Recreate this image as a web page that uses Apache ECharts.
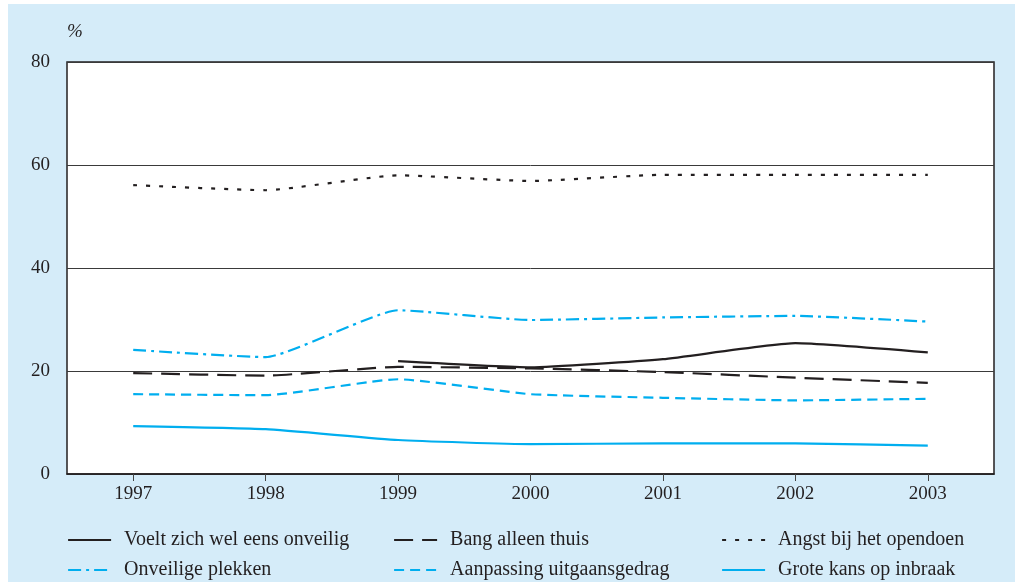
<!DOCTYPE html>
<html>
<head>
<meta charset="utf-8">
<script src="https://cdn.jsdelivr.net/npm/echarts@6/dist/echarts.min.js"></script>
<style>
html,body{margin:0;padding:0;background:#ffffff;}
#chart{position:absolute;left:8px;top:4px;width:1007px;height:578px;}
</style>
</head>
<body>
<div id="chart"></div>
<script>
const years = ['1997','1998','1999','2000','2001','2002','2003'];
const yTicks = [0, 20, 40, 60, 80];
const names = ['Voelt zich wel eens onveilig','Bang alleen thuis','Angst bij het opendoen','Onveilige plekken','Aanpassing uitgaansgedrag','Grote kans op inbraak'];
const voeltOnveilig = [null, null, 21.9, 20.7, 22.3, 25.4, 23.6];
const bangAlleen = [19.6, 19.1, 20.8, 20.5, 19.8, 18.7, 17.7];
const angstOpendoen = [56.1, 55.1, 58.0, 56.9, 58.1, 58.1, 58.1];
const onveiligePlekken = [24.1, 22.7, 31.8, 29.9, 30.4, 30.7, 29.6];
const aanpassing = [15.5, 15.3, 18.4, 15.5, 14.8, 14.3, 14.6];
const groteKans = [9.3, 8.7, 6.6, 5.8, 5.95, 5.95, 5.5];

const FONT = 'Liberation Serif';
const BLACK = '#231f20';
const CYAN = '#00aeef';

const styles = [
  {color: BLACK, type: 'solid'},
  {color: BLACK, type: [19, 9]},
  {color: BLACK, type: [4, 9]},
  {color: CYAN, type: [13, 5, 3, 5]},
  {color: CYAN, type: [10, 6]},
  {color: CYAN, type: 'solid'}
];
const dataSets = [voeltOnveilig, bangAlleen, angstOpendoen, onveiligePlekken, aanpassing, groteKans];

const legendPos = [
  {left: 59, top: 526}, {left: 385, top: 526}, {left: 713, top: 526},
  {left: 59, top: 556}, {left: 385, top: 556}, {left: 713, top: 556}
];

const chart = echarts.init(document.getElementById('chart'));
chart.setOption({
  backgroundColor: '#d5ecf9',
  animation: false,
  textStyle: {fontFamily: FONT},
  grid: {left: 59, right: 21, top: 58, bottom: 108, show: true, backgroundColor: '#ffffff', borderColor: '#231f20', borderWidth: 1.5},
  legend: names.map((n, i) => ({
    data: [n], left: legendPos[i].left, top: legendPos[i].top, padding: 0,
    itemWidth: 43, itemHeight: 14, itemGap: 14,
    itemStyle: {opacity: 0},
    lineStyle: {width: 2.2},
    textStyle: {fontFamily: FONT, fontSize: 20, color: BLACK, padding: [0, 0, 0, 8]}
  })),
  xAxis: {
    type: 'category', data: years, boundaryGap: true,
    axisLine: {show: true, lineStyle: {color: '#231f20', width: 1.5}},
    axisTick: {show: true, alignWithLabel: true, length: 7, lineStyle: {color: '#444', width: 1}},
    axisLabel: {fontFamily: FONT, fontSize: 19, color: BLACK, margin: 11},
    splitLine: {show: false}
  },
  yAxis: {
    type: 'value', min: yTicks[0], max: yTicks[yTicks.length-1], interval: 20,
    name: '%', nameLocation: 'end', nameGap: 21,
    nameTextStyle: {fontFamily: FONT, fontSize: 19, fontStyle: 'italic', color: BLACK, align: 'left', padding: [0,0,0,0]},
    axisLine: {show: false}, axisTick: {show: false},
    axisLabel: {fontFamily: FONT, fontSize: 19, color: BLACK, margin: 17},
    splitLine: {show: true, lineStyle: {color: '#3a3a3a', width: 1}}
  },
  series: names.map((n, i) => ({
    name: n, type: 'line', data: dataSets[i], symbol: 'none', smooth: 0.15,
    connectNulls: false,
    lineStyle: {color: styles[i].color, type: styles[i].type, width: 2.2},
    itemStyle: {color: styles[i].color}
  }))
});
</script>
</body>
</html>
